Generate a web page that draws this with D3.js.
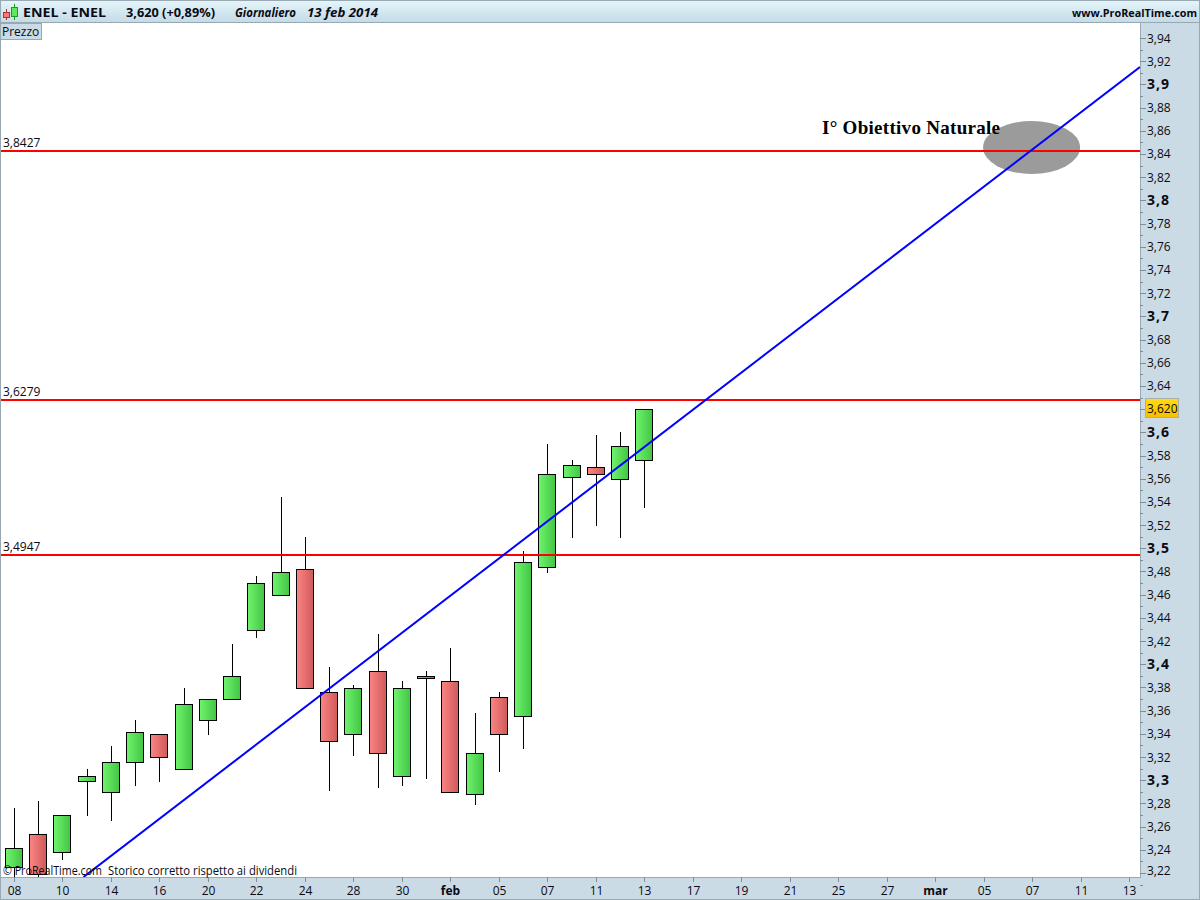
<!DOCTYPE html>
<html><head><meta charset="utf-8">
<script src="https://cdn.jsdelivr.net/npm/d3@7"></script>
<style>html,body{margin:0;padding:0;background:#fff;overflow:hidden}svg{display:block}text{font-family:"Open Sans",sans-serif;fill:#0a0a14}</style>
</head><body><div id="c"></div>
<script>
const dateLabels=["08","10","14","16","20","22","24","28","30","feb","05","07","11","13","17","19","21","25","27","mar","05","07","11","13"];
const opens =[3.2415,3.2536,3.2381,3.2993,3.2898,3.3157,3.3398,3.3097,3.3519,3.3700,3.4295,3.4597,3.4821,3.3761,3.3398,3.3942,3.3036,3.3898,3.3855,3.2881,3.3717,3.3554,3.4838,3.5614,3.5701,3.5597,3.5761];
const closes=[3.2252,3.2191,3.2700,3.3036,3.3157,3.3416,3.3200,3.3657,3.3700,3.3898,3.4700,3.4795,3.3795,3.3338,3.3795,3.3235,3.3795,3.3881,3.2898,3.3235,3.3398,3.4882,3.5640,3.5718,3.5640,3.5882,3.6201];
const highs =[3.2760,3.2821,3.2700,3.3097,3.3295,3.3519,3.3398,3.3795,3.3700,3.4174,3.4761,3.5442,3.5097,3.3976,3.3821,3.4261,3.3855,3.3942,3.4140,3.3579,3.3761,3.4976,3.5899,3.5761,3.5977,3.6003,3.6201];
const lows  =[3.2165,3.2165,3.2312,3.2691,3.2648,3.2950,3.2985,3.3097,3.3390,3.3700,3.4226,3.4597,3.3795,3.2907,3.3209,3.2933,3.2950,3.3010,3.2898,3.2786,3.3071,3.3269,3.4787,3.5088,3.5192,3.5088,3.5347];
const candleColor=[0,1,0,0,0,0,1,0,0,0,0,0,1,1,0,1,0,1,1,0,1,0,0,0,1,0,0];
const levels=[3.8427,3.6279,3.4947];
const levelLabels=["3,8427","3,6279","3,4947"];
const trendIdx=[2.845,46.43];
const trendVal=[3.2165,3.915];
const targetIdx=41.96, targetVal=3.8456;
const priceTicks=[3.94,3.92,3.9,3.88,3.86,3.84,3.82,3.8,3.78,3.76,3.74,3.72,3.7,3.68,3.66,3.64,3.62,3.6,3.58,3.56,3.54,3.52,3.5,3.48,3.46,3.44,3.42,3.4,3.38,3.36,3.34,3.32,3.3,3.28,3.26,3.24,3.22];
const lastPrice="3,620", lastValue=3.6201;

const W=1200,H=900,plotL=1,plotR=1140,plotT=23,plotB=877;
const x=d3.scaleLinear().domain([0,46]).range([14.5,1129.5]);
const y=d3.scaleLinear().domain([3.94,3.22]).range([38,873]);
const svg=d3.select("#c").append("svg").attr("width",W).attr("height",H);
const defs=svg.append("defs");
function grad(id,a,b,vertical){const g=defs.append("linearGradient").attr("id",id);
  if(vertical)g.attr("x1",0).attr("y1",0).attr("x2",0).attr("y2",1);
  g.append("stop").attr("offset",0).attr("stop-color",a);g.append("stop").attr("offset",1).attr("stop-color",b);}
grad("gG","#70f46e","#42c544");grad("gR","#fc8484","#cf5a5a");
grad("gH","#e6f6fb","#c4dbe7",true);grad("gP","#ffdc10","#f8be00",true);
defs.append("clipPath").attr("id","plot").append("rect").attr("x",plotL).attr("y",plotT).attr("width",plotR-plotL).attr("height",plotB-plotT);

const axisFill="#cadbe5",border="#98a9b3";
svg.append("rect").attr("width",W).attr("height",H).attr("fill",axisFill);
svg.append("rect").attr("x",plotL).attr("y",plotT).attr("width",plotR-plotL).attr("height",plotB-plotT).attr("fill","#fff");
// header
svg.append("rect").attr("width",W).attr("height",22).attr("fill","url(#gH)");
svg.append("rect").attr("width",W).attr("height",1).attr("fill",border);
svg.append("rect").attr("y",22).attr("width",W).attr("height",1).attr("fill",border);
svg.append("rect").attr("x",0).attr("y",0).attr("width",1).attr("height",H).attr("fill",border);
svg.append("rect").attr("x",1199).attr("y",0).attr("width",1).attr("height",H).attr("fill",border);
svg.append("rect").attr("y",899).attr("width",W).attr("height",1).attr("fill",border);
svg.append("rect").attr("x",0).attr("y",877).attr("width",1140).attr("height",1).attr("fill",border);
svg.append("rect").attr("x",1140).attr("y",23).attr("width",1).attr("height",855).attr("fill",border);
// header icon
const ic=svg.append("g").attr("stroke-width",1);
ic.append("line").attr("x1",6.5).attr("x2",6.5).attr("y1",9).attr("y2",20).attr("stroke","#b03030");
ic.append("rect").attr("x",3.5).attr("y",12.5).attr("width",6).attr("height",5).attr("fill","#f67a7a").attr("stroke","#b03030");
ic.append("line").attr("x1",14.5).attr("x2",14.5).attr("y1",4).attr("y2",20).attr("stroke","#1c9c1c");
ic.append("rect").attr("x",11.5).attr("y",7.5).attr("width",6).attr("height",9).attr("fill","#5fe85f").attr("stroke","#1c9c1c");
const hdr=(s,xx,len,it,fs)=>svg.append("text").attr("x",xx).attr("y",17).attr("font-size",fs||13).attr("font-weight",700).attr("font-style",it?"italic":"normal").attr("textLength",len).attr("lengthAdjust","spacingAndGlyphs").text(s);
hdr("ENEL - ENEL",23,83);hdr("3,620 (+0,89%)",126,89);
hdr("Giornaliero",235,61,true);hdr("13 feb 2014",307,71,true);
hdr("www.ProRealTime.com",1072,125,false,10.8);
// Prezzo tag
svg.append("rect").attr("x",0.5).attr("y",23.5).attr("width",41).attr("height",16).attr("fill",axisFill).attr("stroke",border);
svg.append("text").attr("x",2).attr("y",36).attr("font-size",12).text("Prezzo");

const plot=svg.append("g").attr("clip-path","url(#plot)");
// target ellipse
plot.append("ellipse").attr("cx",x(targetIdx)).attr("cy",y(targetVal)).attr("rx",48.5).attr("ry",26.5).attr("fill","#9b9b9b");
// candles
const cg=plot.append("g").selectAll("g").data(opens.map((o,i)=>({i,o,c:closes[i],h:highs[i],l:lows[i],red:candleColor[i]}))).join("g");
cg.append("line").attr("x1",d=>Math.floor(x(d.i))+.5).attr("x2",d=>Math.floor(x(d.i))+.5)
  .attr("y1",d=>Math.round(y(d.h))).attr("y2",d=>Math.round(y(d.l))).attr("stroke","#000").attr("stroke-width",1);
cg.append("rect").attr("x",d=>Math.floor(x(d.i))-8.5).attr("width",17)
  .attr("y",d=>Math.round(y(Math.max(d.o,d.c)))+.5)
  .attr("height",d=>Math.max(1,Math.round(y(Math.min(d.o,d.c)))-Math.round(y(Math.max(d.o,d.c)))))
  .attr("fill",d=>d.red?"url(#gR)":"url(#gG)").attr("stroke","#000").attr("stroke-width",1);
// levels
plot.selectAll(".lvl").data(levels).join("line").attr("x1",plotL).attr("x2",plotR)
  .attr("y1",d=>Math.ceil(y(d))).attr("y2",d=>Math.ceil(y(d))).attr("stroke","#ff0000").attr("stroke-width",2);
svg.selectAll(".lvlt").data(levels).join("text").attr("x",3).attr("y",d=>y(d)-3.5).attr("font-size",12).text((d,i)=>levelLabels[i]);
// trend
plot.append("line").attr("x1",x(trendIdx[0])).attr("y1",y(trendVal[0])).attr("x2",x(trendIdx[1])).attr("y2",y(trendVal[1])).attr("stroke","#0000ff").attr("stroke-width",2);
// annotation
svg.append("text").attr("x",822).attr("y",134).attr("font-size",19).attr("font-weight",700).style("font-family","'Liberation Serif',serif").style("fill","#000").attr("textLength",178).text("I° Obiettivo Naturale");
svg.append("text").attr("x",3).attr("y",875).attr("font-size",12).attr("textLength",99).attr("lengthAdjust","spacingAndGlyphs").text("© ProRealTime.com");
svg.append("text").attr("x",108).attr("y",875).attr("font-size",12).attr("textLength",189).attr("lengthAdjust","spacingAndGlyphs").text("Storico corretto rispetto ai dividendi");
// price axis
const isMajor=v=>Math.abs(v*10-Math.round(v*10))<1e-6;
const ax=svg.append("g");
priceTicks.forEach(v=>{
  ax.append("line").attr("x1",1140).attr("x2",1146).attr("y1",Math.round(y(v))+.5).attr("y2",Math.round(y(v))+.5).attr("stroke","#7f8f99");
  ax.append("line").attr("x1",1140).attr("x2",1143).attr("y1",Math.round(y(v-0.01))+.5).attr("y2",Math.round(y(v-0.01))+.5).attr("stroke","#7f8f99");
  if(Math.abs(v-3.62)>1e-6){
    const m=isMajor(v);
    ax.append("text").attr("x",1147).attr("y",Math.min(y(v),870)+4.5).attr("font-size",m?14:12).attr("font-weight",m?700:400)
      .attr("letter-spacing",m?1:0).text(m?v.toFixed(1).replace(".",","):v.toFixed(2).replace(".",","));
  }
});
// last price tag
svg.append("rect").attr("x",1145.5).attr("y",Math.round(y(lastValue))-10.5).attr("width",33).attr("height",19).attr("fill","url(#gP)").attr("stroke","#a8b0a8");
svg.append("text").attr("x",1147).attr("y",y(lastValue)+4).attr("font-size",12).text(lastPrice);
// date axis
dateLabels.forEach((s,i)=>{
  const xx=Math.floor(x(i*2))+.5, big=s==="feb"||s==="mar";
  svg.append("line").attr("x1",xx).attr("x2",xx).attr("y1",877).attr("y2",882).attr("stroke","#7f8f99");
  svg.append("text").attr("x",xx).attr("y",895).attr("text-anchor","middle").attr("font-size",12).attr("font-weight",big?700:400).text(s);
});
</script></body></html>
